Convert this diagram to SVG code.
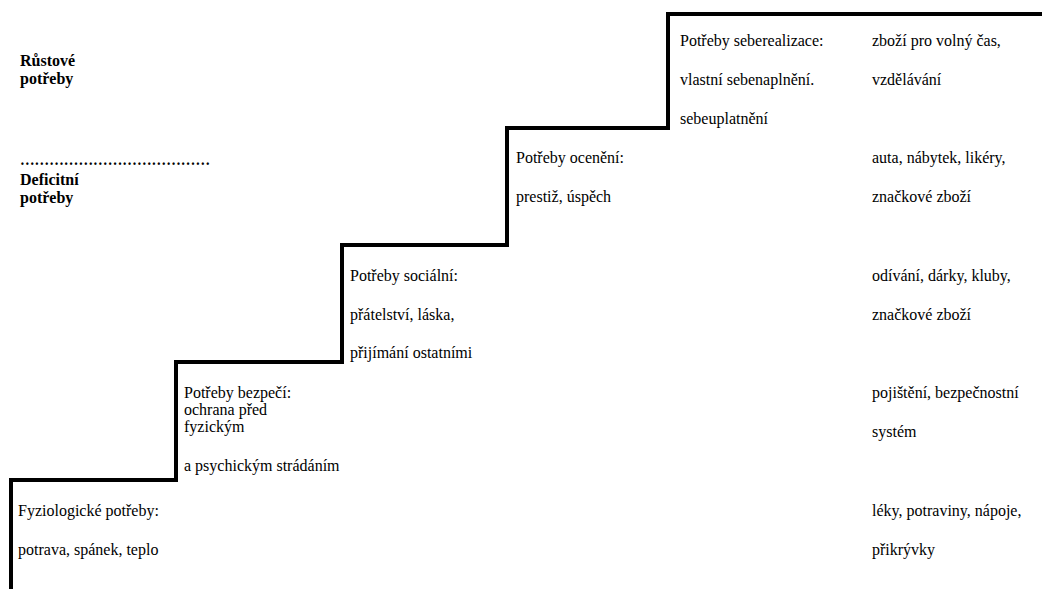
<svg xmlns="http://www.w3.org/2000/svg" width="1042" height="589" viewBox="0 0 1042 589">
<rect width="1042" height="589" fill="#fff"/>
<g id="connectors">
<path d="M11,589 V480 H176 V362 H342 V245 H507 V128 H668 V14 H1042" fill="none" stroke="#000" stroke-width="4"/>
</g>
<g id="legend">
<text x="20" y="66" font-family="Liberation Serif" font-size="16" font-weight="bold">Růstové</text>
<text x="20" y="84" font-family="Liberation Serif" font-size="16" font-weight="bold">potřeby</text>
<text x="20" y="165" font-family="Liberation Serif" font-size="16" font-weight="bold" textLength="190" lengthAdjust="spacingAndGlyphs">…………………………………</text>
<text x="20" y="185" font-family="Liberation Serif" font-size="16" font-weight="bold">Deficitní</text>
<text x="20" y="203" font-family="Liberation Serif" font-size="16" font-weight="bold">potřeby</text>
</g>
<g id="level5">
<text x="680" y="46" font-family="Liberation Serif" font-size="16">Potřeby seberealizace:</text>
<text x="680" y="85" font-family="Liberation Serif" font-size="16">vlastní sebenaplnění.</text>
<text x="680" y="124" font-family="Liberation Serif" font-size="16">sebeuplatnění</text>
<text x="872" y="46" font-family="Liberation Serif" font-size="16">zboží pro volný čas,</text>
<text x="872" y="85" font-family="Liberation Serif" font-size="16">vzdělávání</text>
</g>
<g id="level4">
<text x="516" y="163" font-family="Liberation Serif" font-size="16">Potřeby ocenění:</text>
<text x="516" y="202" font-family="Liberation Serif" font-size="16">prestiž, úspěch</text>
<text x="872" y="163" font-family="Liberation Serif" font-size="16">auta, nábytek, likéry,</text>
<text x="872" y="202" font-family="Liberation Serif" font-size="16">značkové zboží</text>
</g>
<g id="level3">
<text x="350" y="281" font-family="Liberation Serif" font-size="16">Potřeby sociální:</text>
<text x="350" y="320" font-family="Liberation Serif" font-size="16">přátelství, láska,</text>
<text x="350" y="358" font-family="Liberation Serif" font-size="16">přijímání ostatními</text>
<text x="872" y="281" font-family="Liberation Serif" font-size="16">odívání, dárky, kluby,</text>
<text x="872" y="320" font-family="Liberation Serif" font-size="16">značkové zboží</text>
</g>
<g id="level2">
<text x="184" y="398" font-family="Liberation Serif" font-size="16">Potřeby bezpečí:</text>
<text x="184" y="415" font-family="Liberation Serif" font-size="16">ochrana před</text>
<text x="184" y="432" font-family="Liberation Serif" font-size="16">fyzickým</text>
<text x="184" y="471" font-family="Liberation Serif" font-size="16">a psychickým strádáním</text>
<text x="872" y="398" font-family="Liberation Serif" font-size="16">pojištění, bezpečnostní</text>
<text x="872" y="437" font-family="Liberation Serif" font-size="16">systém</text>
</g>
<g id="level1">
<text x="18" y="516" font-family="Liberation Serif" font-size="16">Fyziologické potřeby:</text>
<text x="18" y="555" font-family="Liberation Serif" font-size="16">potrava, spánek, teplo</text>
<text x="872" y="516" font-family="Liberation Serif" font-size="16">léky, potraviny, nápoje,</text>
<text x="872" y="555" font-family="Liberation Serif" font-size="16">přikrývky</text>
</g>
</svg>
